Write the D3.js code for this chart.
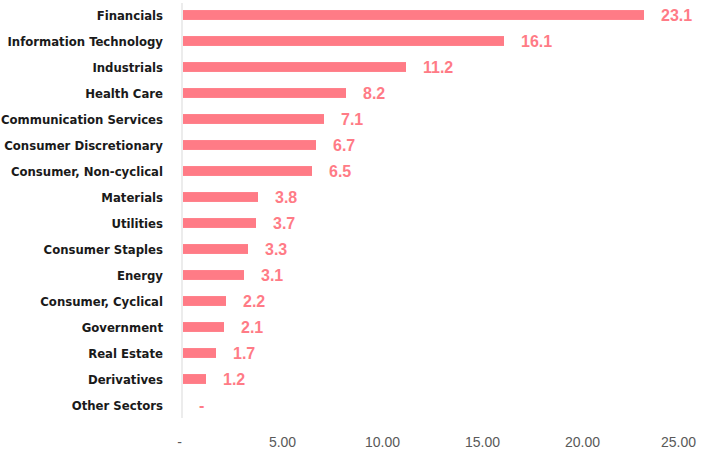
<!DOCTYPE html>
<html>
<head>
<meta charset="utf-8">
<script src="https://cdn.jsdelivr.net/npm/d3@7"></script>
<style>
  body { margin: 0; background: #fff; }
</style>
</head>
<body>
<div id="chart"></div>
<script>
const sectors = ["Financials", "Information Technology", "Industrials", "Health Care",
  "Communication Services", "Consumer Discretionary", "Consumer, Non-cyclical", "Materials",
  "Utilities", "Consumer Staples", "Energy", "Consumer, Cyclical", "Government",
  "Real Estate", "Derivatives", "Other Sectors"];
const weights = [23.1, 16.1, 11.2, 8.2, 7.1, 6.7, 6.5, 3.8, 3.7, 3.3, 3.1, 2.2, 2.1, 1.7, 1.2, 0];
const xTicks = [0, 5, 10, 15, 20, 25];

const width = 702, height = 452;
const barColor = "#ff7b86";

const svg = d3.select("#chart").append("svg")
    .attr("width", width)
    .attr("height", height);

const x = d3.scaleLinear().domain([0, 25]).range([182, 682]);
const y = d3.scaleBand().domain(sectors).range([2, 418]).paddingInner(0.62).paddingOuter(0.31);

// category labels
svg.append("g")
  .selectAll("text")
  .data(sectors)
  .join("text")
    .attr("x", 163)
    .attr("y", d => y(d) + y.bandwidth() / 2)
    .attr("dy", "0.36em")
    .attr("text-anchor", "end")
    .attr("font-family", "DejaVu Sans Condensed, sans-serif")
    .attr("font-stretch", "condensed")
    .attr("font-weight", "bold")
    .attr("font-size", 13)
    .attr("fill", "#1a1a1a")
    .text(d => d);

// vertical axis line
svg.append("line")
    .attr("x1", x(0)).attr("x2", x(0))
    .attr("y1", 3).attr("y2", 418)
    .attr("stroke", "#d9d9d9")
    .attr("stroke-width", 1);

svg.append("g")
  .selectAll("rect")
  .data(weights)
  .join("rect")
    .attr("x", x(0) + 1)
    .attr("y", (d, i) => y(sectors[i]))
    .attr("width", d => Math.max(0, x(d) - x(0) - 1))
    .attr("height", y.bandwidth())
    .attr("fill", barColor);

svg.append("g")
  .selectAll("text")
  .data(weights)
  .join("text")
    .attr("x", d => x(d) + 17)
    .attr("y", (d, i) => y(sectors[i]) + y.bandwidth() / 2)
    .attr("dy", "0.38em")
    .attr("font-family", "Liberation Sans, Arial, sans-serif")
    .attr("font-weight", "bold")
    .attr("font-size", 16)
    .attr("fill", barColor)
    .text(d => d === 0 ? "-" : d.toFixed(1));

// x axis tick labels
const xAxis = svg.append("g")
    .attr("transform", "translate(0,434)")
    .call(d3.axisBottom(x).tickValues(xTicks).tickSize(0)
      .tickFormat(d => d === 0 ? "-" : d.toFixed(2)));
xAxis.select(".domain").remove();
xAxis.selectAll("text")
    .attr("font-family", "Liberation Sans, Arial, sans-serif")
    .attr("font-size", 14)
    .attr("fill", "#595959");
xAxis.selectAll(".tick").filter(d => d === 0).select("text").attr("dx", -3);
xAxis.selectAll(".tick").filter(d => d === 25).select("text").attr("dx", -4);
</script>
</body>
</html>
